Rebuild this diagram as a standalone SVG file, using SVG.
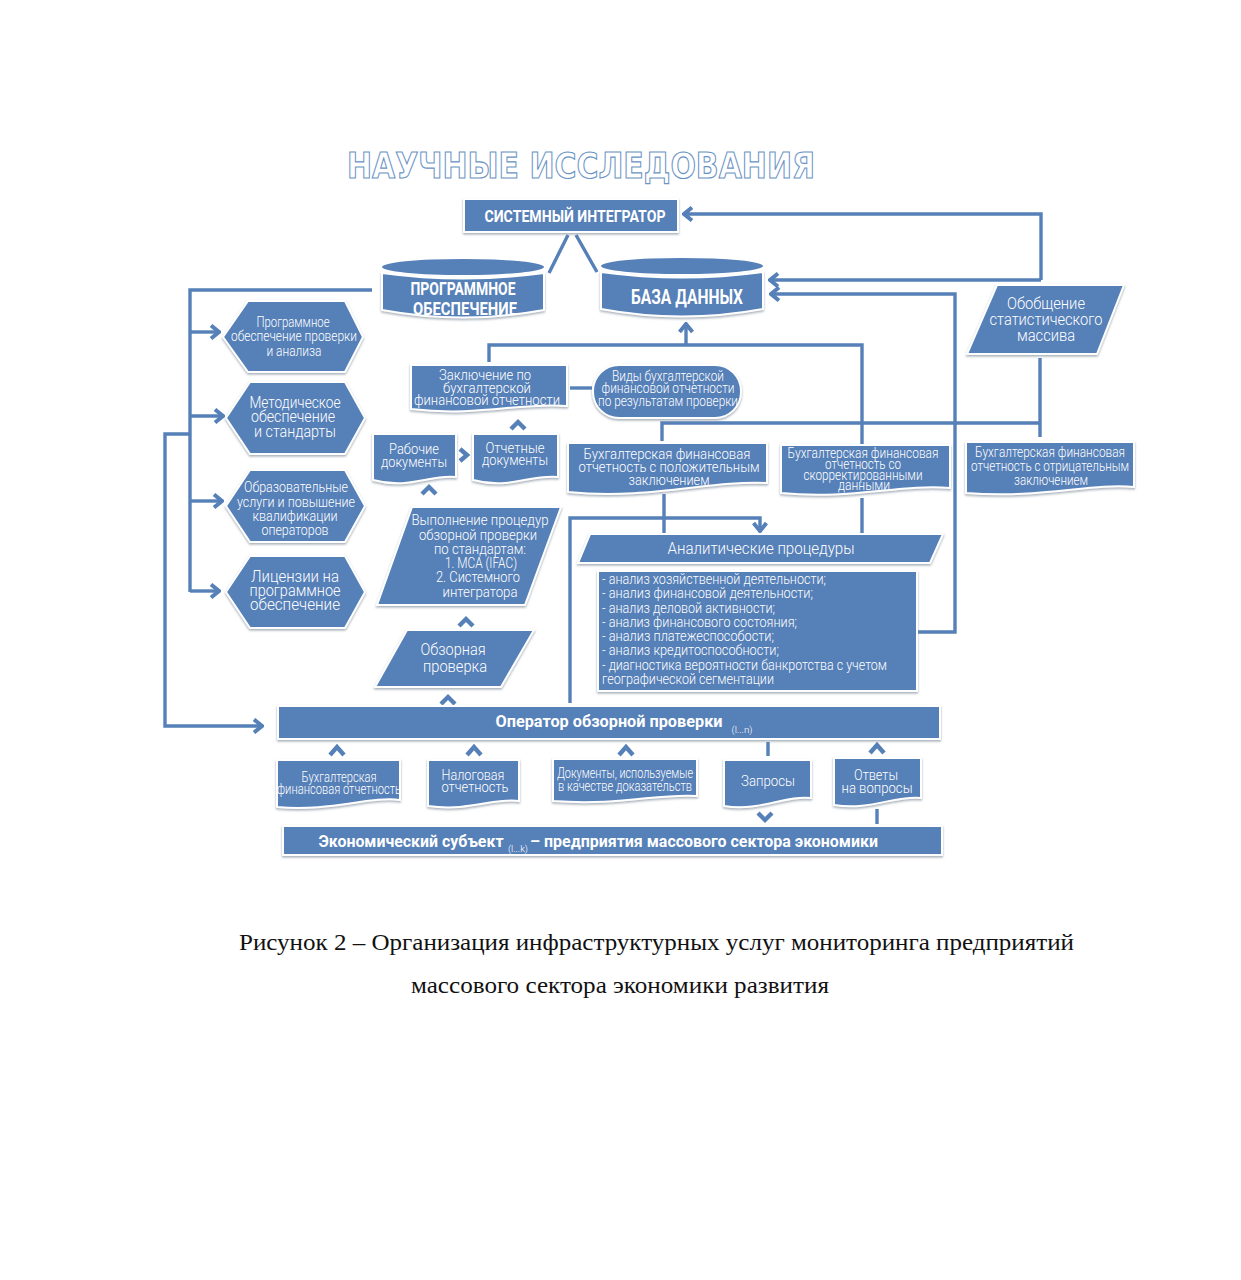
<svg xmlns="http://www.w3.org/2000/svg" width="1241" height="1280" viewBox="0 0 1241 1280" font-size="15">
<defs>
<filter id="sh" x="-10%" y="-10%" width="120%" height="125%"><feDropShadow dx="0" dy="1.5" stdDeviation="1.2" flood-color="#7d8a99" flood-opacity="0.7"/></filter>
<marker id="ah" viewBox="0 0 16 16" refX="14" refY="8" markerWidth="16" markerHeight="16" markerUnits="userSpaceOnUse" orient="auto"><path d="M6,1.5 L14,8 L6,14.5" fill="none" stroke="#5680b8" stroke-width="4"/></marker>
</defs>
<style>
.s{fill:#5680b8;stroke:#fff;stroke-width:2;filter:url(#sh)}
.c{fill:none;stroke:#5680b8;stroke-width:3.4}
.a{marker-end:url(#ah)}
.v{fill:none;stroke:#5680b8;stroke-width:4.4}
text{font-family:Roboto,"Liberation Sans",sans-serif;fill:#fff;text-anchor:middle;font-weight:300}
.b{font-weight:700}
.l{text-anchor:start;font-size:14px}
.m{font-family:"Liberation Serif",serif;fill:#111;font-size:24px;text-anchor:start;font-weight:400}
.h{font-family:"DejaVu Sans",sans-serif;font-weight:700;font-size:27px;fill:#fff;stroke:#6a93c4;stroke-width:.9;text-anchor:start}
</style>
<rect width="1241" height="1280" fill="#fff"/>
<text id="title" class="h" transform="translate(347,178) scale(1,1.32)" textLength="468" lengthAdjust="spacingAndGlyphs">НАУЧНЫЕ ИССЛЕДОВАНИЯ</text>
<g id="connectors">
<path class="c" d="M568,235 L549,273 M576,235 L597,272"/>
<path class="c" d="M372,290 H190 V592"/>
<path class="c a" d="M190,332 H219"/><path class="c a" d="M190,416 H223"/><path class="c a" d="M190,501 H222"/><path class="c a" d="M190,591 H219"/>
<path class="c a" d="M190,434 H165 V726 H262"/>
<path class="c a" d="M1041,280 V214 H684"/>
<path class="c a" d="M1041,280 H770"/>
<path class="c a" d="M918,632 H955 V294 H771"/>
<path class="c" d="M489,362 V345 H862 V444"/>
<path class="c a" d="M686,345 V324"/>
<path class="c" d="M570,388 H592"/>
<path class="c" d="M662,441 V423 H1040 M1040,358 V437"/>
<path class="c" d="M664,494 V534 M862,498 V533"/>
<path class="c a" d="M570,703 V518 H760 V531"/>
<path class="c" d="M768,742 V756 M877,809 V824"/>
<path class="v" d="M422,494 L429,487 L436,494 M511,429 L518,422 L525,429 M460,449 L467,455 L460,461 M459,626 L466,619 L473,626 M441,704 L448,697 L455,704 M330,755 L337,747 L344,755 M467,755 L474,747 L481,755 M619,755 L626,747 L633,755 M870,753 L877,745 L884,753 M758,813 L765,820 L772,813"/>
</g>
<g id="n-integrator"><rect class="s" x="464" y="199" width="214" height="33"/><text class="b" x="575" y="222" font-size="17" textLength="181" lengthAdjust="spacingAndGlyphs">СИСТЕМНЫЙ ИНТЕГРАТОР</text></g>
<g id="n-software"><path class="s" d="M382,273 Q463,284 544,273 V310 Q463,325 382,310 Z"/><ellipse cx="463" cy="267" rx="81" ry="8" fill="#5680b8"/><text class="b" x="463" y="295" font-size="19" textLength="105" lengthAdjust="spacingAndGlyphs">ПРОГРАММНОЕ</text><text class="b" x="465" y="315" font-size="19" textLength="104" lengthAdjust="spacingAndGlyphs">ОБЕСПЕЧЕНИЕ</text></g>
<g id="n-db"><path class="s" d="M601,272 Q682,283 763,272 V309 Q682,324 601,309 Z"/><ellipse cx="682" cy="266" rx="81" ry="8" fill="#5680b8"/><text class="b" x="687" y="304" font-size="20" textLength="112" lengthAdjust="spacingAndGlyphs">БАЗА ДАННЫХ</text></g>
<g id="n-hex1"><polygon class="s" points="223,337 248,301 345,301 363,337 345,372 248,372"/><text x="293" y="327" textLength="73" lengthAdjust="spacingAndGlyphs">Программное</text><text x="294" y="341" textLength="126" lengthAdjust="spacingAndGlyphs">обеспечение проверки</text><text x="294" y="356" textLength="55" lengthAdjust="spacingAndGlyphs">и анализа</text></g>
<g id="n-hex2"><polygon class="s" points="226,418 250,382 345,382 365,418 345,454 250,454"/><text x="295" y="408" font-size="17" textLength="91" lengthAdjust="spacingAndGlyphs">Методическое</text><text x="293" y="422" font-size="17" textLength="84" lengthAdjust="spacingAndGlyphs">обеспечение</text><text x="295" y="437" font-size="17" textLength="82" lengthAdjust="spacingAndGlyphs">и стандарты</text></g>
<g id="n-hex3"><polygon class="s" points="226,506 250,470 345,470 365,506 345,542 250,542"/><text x="296" y="492" textLength="104" lengthAdjust="spacingAndGlyphs">Образовательные</text><text x="296" y="507" textLength="118" lengthAdjust="spacingAndGlyphs">услуги и повышение</text><text x="295" y="521" textLength="85" lengthAdjust="spacingAndGlyphs">квалификации</text><text x="295" y="535" textLength="67" lengthAdjust="spacingAndGlyphs">операторов</text></g>
<g id="n-hex4"><polygon class="s" points="226,592 250,556 345,556 365,592 345,628 250,628"/><text x="295" y="582" font-size="17" textLength="88" lengthAdjust="spacingAndGlyphs">Лицензии на</text><text x="295" y="596" font-size="17" textLength="91" lengthAdjust="spacingAndGlyphs">программное</text><text x="295" y="610" font-size="17" textLength="90" lengthAdjust="spacingAndGlyphs">обеспечение</text></g>
<g id="n-concl"><path class="s" d="M411,365 H567 V406 C520,402 480,417 411,409 Z"/><text x="485" y="380" textLength="92" lengthAdjust="spacingAndGlyphs">Заключение по</text><text x="487" y="393" textLength="88" lengthAdjust="spacingAndGlyphs">бухгалтерской</text><text x="487" y="405" textLength="146" lengthAdjust="spacingAndGlyphs">финансовой отчетности</text></g>
<g id="n-kinds"><rect class="s" x="593" y="365" width="148" height="53" rx="26"/><text x="668" y="381" font-size="14" textLength="112" lengthAdjust="spacingAndGlyphs">Виды бухгалтерской</text><text x="668" y="393" font-size="14" textLength="133" lengthAdjust="spacingAndGlyphs">финансовой отчетности</text><text x="668" y="406" font-size="14" textLength="140" lengthAdjust="spacingAndGlyphs">по результатам проверки</text></g>
<g id="n-work"><path class="s" d="M373,434 H456 V477 C430,474 410,490 373,480 Z"/><text x="414" y="454" textLength="50" lengthAdjust="spacingAndGlyphs">Рабочие</text><text x="414" y="467" textLength="66" lengthAdjust="spacingAndGlyphs">документы</text></g>
<g id="n-report"><path class="s" d="M473,434 H558 V477 C530,474 510,490 473,480 Z"/><text x="515" y="453" textLength="59" lengthAdjust="spacingAndGlyphs">Отчетные</text><text x="515" y="465" textLength="66" lengthAdjust="spacingAndGlyphs">документы</text></g>
<g id="n-proc"><polygon class="s" points="412,507 561,507 525,605 377,605"/><text x="480" y="525" textLength="137" lengthAdjust="spacingAndGlyphs">Выполнение процедур</text><text x="478" y="540" textLength="118" lengthAdjust="spacingAndGlyphs">обзорной проверки</text><text x="480" y="554" textLength="92" lengthAdjust="spacingAndGlyphs">по стандартам:</text><text x="481" y="568" textLength="72" lengthAdjust="spacingAndGlyphs">1. МСА (IFAC)</text><text x="478" y="582" textLength="84" lengthAdjust="spacingAndGlyphs">2. Системного</text><text x="480" y="597" textLength="75" lengthAdjust="spacingAndGlyphs">интегратора</text></g>
<g id="n-review"><polygon class="s" points="407,630 534,630 501,687 375,687"/><text x="453" y="655" font-size="17" textLength="65" lengthAdjust="spacingAndGlyphs">Обзорная</text><text x="455" y="672" font-size="17" textLength="64" lengthAdjust="spacingAndGlyphs">проверка</text></g>
<g id="n-stat"><polygon class="s" points="997,285 1124,285 1097,354 967,354"/><text x="1046" y="309" font-size="17" textLength="78" lengthAdjust="spacingAndGlyphs">Обобщение</text><text x="1046" y="325" font-size="17" textLength="113" lengthAdjust="spacingAndGlyphs">статистического</text><text x="1046" y="341" font-size="17" textLength="58" lengthAdjust="spacingAndGlyphs">массива</text></g>
<g id="n-pos"><path class="s" d="M568,443 H767 V483 C710,480 650,500 568,492 Z"/><text x="667" y="459" textLength="167" lengthAdjust="spacingAndGlyphs">Бухгалтерская финансовая</text><text x="669" y="472" textLength="181" lengthAdjust="spacingAndGlyphs">отчетность с положительным</text><text x="669" y="485" textLength="81" lengthAdjust="spacingAndGlyphs">заключением</text></g>
<g id="n-adj"><path class="s" d="M781,445 H950 V488 C900,484 850,500 781,493 Z"/><text x="863" y="458" textLength="151" lengthAdjust="spacingAndGlyphs">Бухгалтерская финансовая</text><text x="863" y="469" textLength="76" lengthAdjust="spacingAndGlyphs">отчетность со</text><text x="863" y="480" textLength="119" lengthAdjust="spacingAndGlyphs">скорректированными</text><text x="864" y="490" textLength="52" lengthAdjust="spacingAndGlyphs">данными</text></g>
<g id="n-neg"><path class="s" d="M966,442 H1134 V487 C1090,483 1040,499 966,493 Z"/><text x="1050" y="457" textLength="150" lengthAdjust="spacingAndGlyphs">Бухгалтерская финансовая</text><text x="1050" y="471" textLength="158" lengthAdjust="spacingAndGlyphs">отчетность с отрицательным</text><text x="1051" y="485" textLength="74" lengthAdjust="spacingAndGlyphs">заключением</text></g>
<g id="n-analytic"><polygon class="s" points="590,534 943,534 930,563 578,563"/><text x="761" y="554" font-size="16" textLength="187" lengthAdjust="spacingAndGlyphs">Аналитические процедуры</text></g>
<g id="n-list"><rect class="s" x="598" y="571" width="319" height="120"/>
<text class="l" x="602" y="584" textLength="224" lengthAdjust="spacingAndGlyphs">- анализ хозяйственной деятельности;</text>
<text class="l" x="602" y="598" textLength="211" lengthAdjust="spacingAndGlyphs">- анализ финансовой деятельности;</text>
<text class="l" x="602" y="613" textLength="173" lengthAdjust="spacingAndGlyphs">- анализ деловой активности;</text>
<text class="l" x="602" y="627" textLength="195" lengthAdjust="spacingAndGlyphs">- анализ финансового состояния;</text>
<text class="l" x="602" y="641" textLength="172" lengthAdjust="spacingAndGlyphs">- анализ платежеспособости;</text>
<text class="l" x="602" y="655" textLength="177" lengthAdjust="spacingAndGlyphs">- анализ кредитоспособности;</text>
<text class="l" x="602" y="670" textLength="285" lengthAdjust="spacingAndGlyphs">- диагностика вероятности банкротства с учетом</text>
<text class="l" x="602" y="684" textLength="172" lengthAdjust="spacingAndGlyphs">географической сегментации</text></g>
<g id="n-operator"><rect class="s" x="278" y="706" width="662" height="33"/><text class="b" x="609" y="727" font-size="16" textLength="227" lengthAdjust="spacingAndGlyphs">Оператор обзорной проверки</text><text x="742" y="733" font-size="9" textLength="21" lengthAdjust="spacingAndGlyphs">(l...n)</text></g>
<g id="n-d1"><path class="s" d="M277,760 H400 V800 C370,796 330,812 277,807 Z"/><text x="339" y="782" font-size="14" textLength="75" lengthAdjust="spacingAndGlyphs">Бухгалтерская</text><text x="339" y="794" font-size="14" textLength="124" lengthAdjust="spacingAndGlyphs">финансовая отчетность</text></g>
<g id="n-d2"><path class="s" d="M428,760 H519 V801 C495,797 470,812 428,806 Z"/><text x="473" y="780" font-size="15" textLength="63" lengthAdjust="spacingAndGlyphs">Налоговая</text><text x="475" y="792" font-size="15" textLength="67" lengthAdjust="spacingAndGlyphs">отчетность</text></g>
<g id="n-d3"><path class="s" d="M553,759 H697 V796 C660,793 620,806 553,801 Z"/><text x="625" y="778" font-size="14" textLength="136" lengthAdjust="spacingAndGlyphs">Документы, используемые</text><text x="625" y="791" font-size="14" textLength="134" lengthAdjust="spacingAndGlyphs">в качестве доказательств</text></g>
<g id="n-d4"><path class="s" d="M724,760 H811 V798 C785,795 760,812 724,806 Z"/><text x="768" y="786" font-size="15" textLength="54" lengthAdjust="spacingAndGlyphs">Запросы</text></g>
<g id="n-d5"><path class="s" d="M834,758 H921 V798 C895,795 870,811 834,805 Z"/><text x="876" y="780" font-size="15" textLength="44" lengthAdjust="spacingAndGlyphs">Ответы</text><text x="877" y="793" font-size="15" textLength="71" lengthAdjust="spacingAndGlyphs">на вопросы</text></g>
<g id="n-subject"><rect class="s" x="283" y="826" width="659" height="29"/><text class="b" x="411" y="847" font-size="16" textLength="185" lengthAdjust="spacingAndGlyphs">Экономический субъект</text><text x="518" y="852" font-size="9" textLength="20" lengthAdjust="spacingAndGlyphs">(l...k)</text><text class="b" x="704" y="847" font-size="16" textLength="348" lengthAdjust="spacingAndGlyphs">– предприятия массового сектора экономики</text></g>
<text class="m" x="239" y="950" textLength="835" lengthAdjust="spacingAndGlyphs">Рисунок 2 – Организация инфраструктурных услуг мониторинга предприятий</text>
<text class="m" x="411" y="993" textLength="418" lengthAdjust="spacingAndGlyphs">массового сектора экономики развития</text>
</svg>
